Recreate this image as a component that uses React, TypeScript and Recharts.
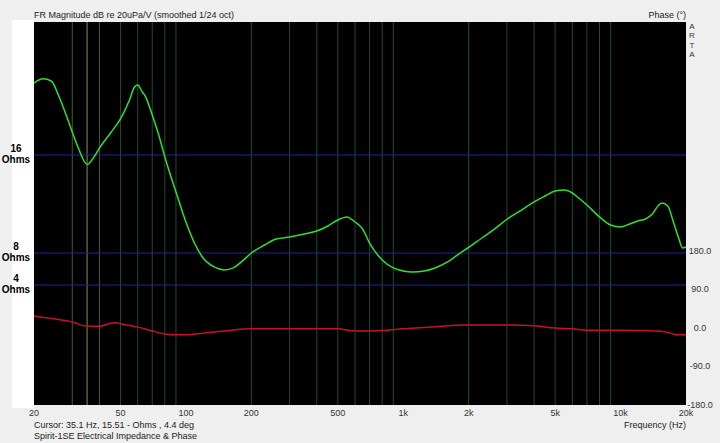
import { LineChart, Line, XAxis, YAxis, CartesianGrid, ReferenceLine } from 'recharts'

// impedance curve, Hz -> Ohms
const Z_FREQ = [
  20, 22, 24, 26, 28, 30, 32, 35.1, 38, 40, 45, 50, 55, 58, 60, 63, 65, 70, 75, 80, 90, 100,
  110, 120, 135, 150, 165, 180, 200, 230, 260, 300, 350, 400, 450, 500, 550, 600, 650, 700, 800,
  900, 1000, 1100, 1250, 1400, 1600, 1800, 2000, 2300, 2600, 3000, 3500, 4000, 4500, 5000, 5500,
  6000, 6500, 7000, 8000, 9000, 10000, 11000, 12000, 13000, 14000, 15000, 15500, 16500, 17500,
  18500, 19300, 20000,
]
const Z_OHMS = [
  19.92, 20.12, 20.02, 19.29, 18.36, 17.37, 16.43, 15.4, 15.94, 16.43, 17.32, 18.1, 19.09, 19.73,
  19.83, 19.49, 19.29, 18.31, 17.2, 15.88, 13.48, 11.04, 8.95, 7.45, 6.39, 6.02, 6.27, 6.99, 8.0,
  8.85, 9.45, 9.65, 9.94, 10.22, 10.68, 11.22, 11.48, 11.04, 10.41, 9.05, 7.22, 6.27, 5.89, 5.76,
  5.89, 6.27, 6.99, 7.89, 8.59, 9.55, 10.32, 11.28, 12.06, 12.71, 13.17, 13.55, 13.62, 13.4, 12.94,
  12.47, 11.48, 10.77, 10.59, 10.86, 11.13, 11.3, 11.73, 12.47, 12.63, 12.39, 11.04, 9.55, 8.54,
  8.64,
]

// phase curve, Hz -> degrees
const P_FREQ = [
  20, 25, 30, 35.1, 40, 45, 48, 50, 55, 60, 70, 80, 90, 100, 120, 150, 200, 300, 500, 600, 700,
  800, 1000, 1300, 2000, 3000, 4000, 5000, 6000, 7000, 10000, 13000, 15000, 17000, 18000, 20000,
]
const P_DEG = [
  28, 21, 14, 4.4, 4, 11, 12, 10, 6, 2, -7, -14, -16, -16, -12, -7, -2, -2, -2, -7, -7, -6, -2, 2,
  7, 7, 5, 0, -2, -5, -5, -6, -7, -12, -16, -16,
]

const FREQ_TICKS = [20, 50, 100, 200, 500, 1000, 2000, 5000, 10000, 20000]
const FREQ_LABELS = ['20', '50', '100', '200', '500', '1k', '2k', '5k', '10k', '20k']
const GRID_FREQ = [
  30, 40, 50, 60, 70, 80, 90, 200, 300, 400, 500, 600, 700, 800, 900,
  2000, 3000, 4000, 5000, 6000, 7000, 8000, 9000,
]
const CURSOR_FREQ = 35.1
const OHM_TICKS = [4, 8, 16]
const PHASE_TICKS = [-180, -90, 0, 90, 180]
const ARTA = ['A', 'R', 'T', 'A']

// the ohm labels sit on an uneven scale, so the curve goes through exp(K * ohms)
const K = 0.069415
const toT = (ohm: number) => Math.exp(K * ohm)

const zData = Z_FREQ.map((f, i) => ({ f, t: toT(Z_OHMS[i]) }))
const pData = P_FREQ.map((f, i) => ({ f, deg: P_DEG[i] }))

const font = '"Liberation Sans", Arial, sans-serif'

function OhmTick(props: any) {
  const { y, payload } = props
  const ohm = Math.round(Math.log(payload.value) / K)
  return (
    <g fontFamily={font} fontSize={10} fontWeight="bold" fill="#000" textAnchor="middle">
      <text x={16} y={y - 7} dominantBaseline="central">{ohm}</text>
      <text x={16} y={y + 4.5} dominantBaseline="central">Ohms</text>
    </g>
  )
}

function PhaseTick(props: any) {
  const { y, payload } = props
  return (
    <text x={700} y={y} dominantBaseline="central" textAnchor="middle" fontFamily={font} fontSize={9} fill="#333">
      {payload.value.toFixed(1)}
    </text>
  )
}

function FreqTick(props: any) {
  const { x, payload } = props
  const i = FREQ_TICKS.indexOf(payload.value)
  return (
    <text x={x} y={413} dominantBaseline="central" textAnchor="middle" fontFamily={font} fontSize={9} fill="#333">
      {FREQ_LABELS[i]}
    </text>
  )
}

const small = { position: 'absolute' as const, fontFamily: font, fontSize: 9, color: '#222', lineHeight: '11px', whiteSpace: 'nowrap' as const }

export default function App() {
  return (
    <div style={{ position: 'fixed', left: 0, top: 0, width: 720, height: 443, background: '#efefef', overflow: 'hidden' }}>
      <div style={{ position: 'absolute', left: 12, top: 20, width: 22, height: 388, background: '#ffffff' }} />
      <div style={{ ...small, left: 34, top: 10 }}>FR Magnitude dB re 20uPa/V (smoothed 1/24 oct)</div>
      <div style={{ ...small, right: 34, top: 10 }}>Phase (°)</div>
      {ARTA.map((c, i) => (
        <div key={i} style={{ ...small, left: 688, top: 22 + i * 9.4, width: 8, height: 9, textAlign: 'center', lineHeight: '9px', fontSize: 8, color: '#333' }}>
          {c}
        </div>
      ))}
      <div style={{ ...small, left: 34, top: 420 }}>Cursor: 35.1 Hz, 15.51 - Ohms , 4.4 deg</div>
      <div style={{ ...small, left: 34, top: 431 }}>Spirit-1SE Electrical Impedance &amp; Phase</div>
      <div style={{ ...small, right: 34, top: 420 }}>Frequency (Hz)</div>

      <div style={{ position: 'absolute', left: 0, top: 0 }}>
        <LineChart width={720} height={443} margin={{ top: 22, right: 0, bottom: 0, left: 0 }}>
          <CartesianGrid fill="#000000" stroke="none" horizontal={false} vertical={false} yAxisId="z" />
          <XAxis
            dataKey="f"
            type="number"
            scale="log"
            domain={[20, 20000]}
            ticks={FREQ_TICKS}
            allowDataOverflow
            axisLine={false}
            tickLine={false}
            tick={<FreqTick />}
            height={38}
          />
          <YAxis
            yAxisId="z"
            type="number"
            domain={[-0.2643, 4.7924]}
            ticks={OHM_TICKS.map(toT)}
            allowDataOverflow
            axisLine={false}
            tickLine={false}
            tick={<OhmTick />}
            width={34}
          />
          <YAxis
            yAxisId="p"
            orientation="right"
            type="number"
            domain={[-180, 715.3]}
            ticks={PHASE_TICKS}
            allowDataOverflow
            axisLine={false}
            tickLine={false}
            tick={<PhaseTick />}
            width={34}
          />
          {GRID_FREQ.map((f) => (
            <ReferenceLine key={f} x={f} yAxisId="z" stroke={f < 50 ? '#4a5a28' : '#1f4d22'} strokeWidth={1} />
          ))}
          <ReferenceLine x={CURSOR_FREQ} yAxisId="z" stroke="#8c8c46" strokeWidth={1} />
          {OHM_TICKS.map((o) => (
            <ReferenceLine key={o} y={toT(o)} yAxisId="z" stroke="#2323a0" strokeWidth={1} />
          ))}
          <Line
            data={pData}
            yAxisId="p"
            dataKey="deg"
            type="monotone"
            stroke="#c8102e"
            strokeWidth={1.5}
            dot={false}
            isAnimationActive={false}
          />
          <Line
            data={zData}
            yAxisId="z"
            dataKey="t"
            type="monotone"
            stroke="#2fe02f"
            strokeWidth={1.5}
            dot={false}
            isAnimationActive={false}
          />
        </LineChart>
      </div>
    </div>
  )
}
